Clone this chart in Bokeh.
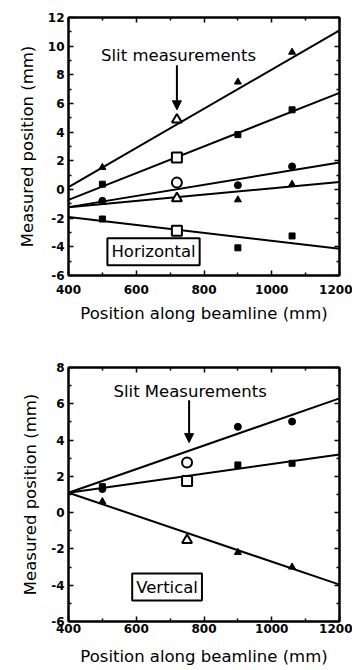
from bokeh.plotting import figure
from bokeh.layouts import column
from bokeh.models import LinearAxis, FixedTicker, Arrow, NormalHead, Label, Range1d
from bokeh.embed import file_html
from bokeh.resources import INLINE

# ---------------- data ----------------
pos_meas = [500, 900, 1060]          # filled-marker positions (mm)
fit_x = [400, 1200]                  # fit line end positions (mm)

# Horizontal panel
h_slit_x = 720
h_A_meas = [1.54, 7.5, 9.58];   h_A_slit = 4.87;  h_A_fit = [0.16, 11.1]
h_B_meas = [0.37, 3.83, 5.56];  h_B_slit = 2.24;  h_B_fit = [-0.72, 6.74]
h_C_meas = [-0.79, 0.3, 1.61];  h_C_slit = 0.48;  h_C_fit = [-1.23, 1.89]
h_D_meas = [-0.9, -0.72, 0.37]; h_D_slit = -0.62; h_D_fit = [-1.23, 0.52]
h_E_meas = [-2.06, -4.07, -3.24]; h_E_slit = -2.87; h_E_fit = [-1.92, -4.14]

# Vertical panel
v_slit_x = 750
v_A_meas = [1.3, 4.73, 5.02];   v_A_slit = 2.77;  v_A_fit = [1.1, 6.3]
v_B_meas = [1.43, 2.63, 2.72];  v_B_slit = 1.74;  v_B_fit = [1.1, 3.2]
v_C_meas = [0.61, -2.19, -3.0]; v_C_slit = -1.52; v_C_fit = [1.1, -3.97]

x_ticks = [400, 600, 800, 1000, 1200]
x_minor = [500, 700, 900, 1100]
h_y_ticks = [-6, -4, -2, 0, 2, 4, 6, 8, 10, 12]
v_y_ticks = [-6, -4, -2, 0, 2, 4, 6, 8]

FONT = "DejaVu Sans"


def style(p, yticks, x_std, xl_std):
    yminor = [t + 1 for t in yticks[:-1]]
    p.xgrid.grid_line_color = None
    p.ygrid.grid_line_color = None
    p.outline_line_color = "black"
    p.outline_line_width = 2
    bottom = p.below[0]
    left = p.left[0]
    bottom.ticker = FixedTicker(ticks=x_ticks, minor_ticks=x_minor)
    left.ticker = FixedTicker(ticks=yticks, minor_ticks=yminor)
    bottom.major_label_overrides = {t: str(t) for t in x_ticks}
    left.major_label_overrides = {t: str(t) for t in yticks}
    top = LinearAxis(ticker=FixedTicker(ticks=x_ticks, minor_ticks=x_minor))
    right = LinearAxis(ticker=FixedTicker(ticks=yticks, minor_ticks=yminor))
    p.add_layout(top, "above")
    p.add_layout(right, "right")
    for ax in [bottom, left, top, right]:
        ax.axis_line_width = 2
        ax.major_tick_in = 5
        ax.major_tick_out = 0
        ax.minor_tick_in = 3
        ax.minor_tick_out = 0
        ax.major_tick_line_width = 1.5
        ax.minor_tick_line_width = 1.5
        ax.major_label_text_font = FONT
        ax.major_label_text_font_style = "bold"
        ax.major_label_text_font_size = "12px"
        ax.major_label_text_color = "black"
    for ax in [top, right]:
        ax.major_label_text_color = None
        ax.major_label_text_font_size = "1px"
        ax.major_label_standoff = 0
    bottom.major_label_standoff = x_std
    left.major_label_standoff = 4
    for ax in [bottom, left]:
        ax.axis_label_text_font = FONT
        ax.axis_label_text_font_style = "normal"
        ax.axis_label_text_font_size = "16.5px"
        ax.axis_label_text_color = "black"
    bottom.axis_label = "Position along beamline (mm)"
    left.axis_label = "Measured position (mm)"
    bottom.axis_label_standoff = xl_std
    left.axis_label_standoff = 8


def series(p, meas, slit_x, slit, fit, marker, msize=7):
    p.line(fit_x, fit, line_color="black", line_width=2)
    p.scatter(pos_meas, meas, marker=marker, size=msize, fill_color="black", line_color="black")
    p.scatter([slit_x], [slit], marker=marker, size=10, fill_color="white",
              line_color="black", line_width=2)


# ---------------- top (Horizontal) ----------------
p1 = figure(width=352, height=325, x_range=Range1d(400, 1200), y_range=Range1d(-6, 12),
            output_backend="svg", toolbar_location=None,
            min_border_left=68, min_border_right=12, min_border_top=17, min_border_bottom=48)
style(p1, h_y_ticks, 9, 7)
series(p1, h_A_meas, h_slit_x, h_A_slit, h_A_fit, "triangle")
series(p1, h_B_meas, h_slit_x, h_B_slit, h_B_fit, "square", 6)
series(p1, h_C_meas, h_slit_x, h_C_slit, h_C_fit, "circle")
series(p1, h_D_meas, h_slit_x, h_D_slit, h_D_fit, "triangle")
series(p1, h_E_meas, h_slit_x, h_E_slit, h_E_fit, "square", 6)
p1.add_layout(Label(x=725, y=9.37, text="Slit measurements", text_align="center",
                    text_baseline="middle", text_font=FONT, text_font_size="16.5px",
                    text_color="black"))
p1.add_layout(Arrow(end=NormalHead(size=9, fill_color="black", line_color="black"),
                    x_start=720, y_start=8.67, x_end=720, y_end=5.56,
                    line_width=2, line_color="black"))
p1.add_layout(Label(x=651, y=-4.34, text="Horizontal", text_align="center",
                    text_baseline="middle", text_font=FONT, text_font_size="16.5px",
                    text_color="black", border_line_color="black", border_line_width=2,
                    background_fill_color="white", padding=4))

# ---------------- bottom (Vertical) ----------------
p2 = figure(width=352, height=343, x_range=Range1d(400, 1200), y_range=Range1d(-6, 8),
            output_backend="svg", toolbar_location=None,
            min_border_left=67, min_border_right=13, min_border_top=42, min_border_bottom=44)
style(p2, v_y_ticks, 2, 11)
series(p2, v_A_meas, v_slit_x, v_A_slit, v_A_fit, "circle")
series(p2, v_B_meas, v_slit_x, v_B_slit, v_B_fit, "square", 6)
series(p2, v_C_meas, v_slit_x, v_C_slit, v_C_fit, "triangle")
p2.add_layout(Label(x=759, y=6.7, text="Slit Measurements", text_align="center",
                    text_baseline="middle", text_font=FONT, text_font_size="16.5px",
                    text_color="black"))
p2.add_layout(Arrow(end=NormalHead(size=9, fill_color="black", line_color="black"),
                    x_start=756, y_start=6.2, x_end=756, y_end=3.86,
                    line_width=2, line_color="black"))
p2.add_layout(Label(x=691, y=-4.1, text="Vertical", text_align="center",
                    text_baseline="middle", text_font=FONT, text_font_size="16.5px",
                    text_color="black", border_line_color="black", border_line_width=2,
                    background_fill_color="white", padding=4))

layout = column(p1, p2)
open("out.html", "w").write(file_html(layout, INLINE))
